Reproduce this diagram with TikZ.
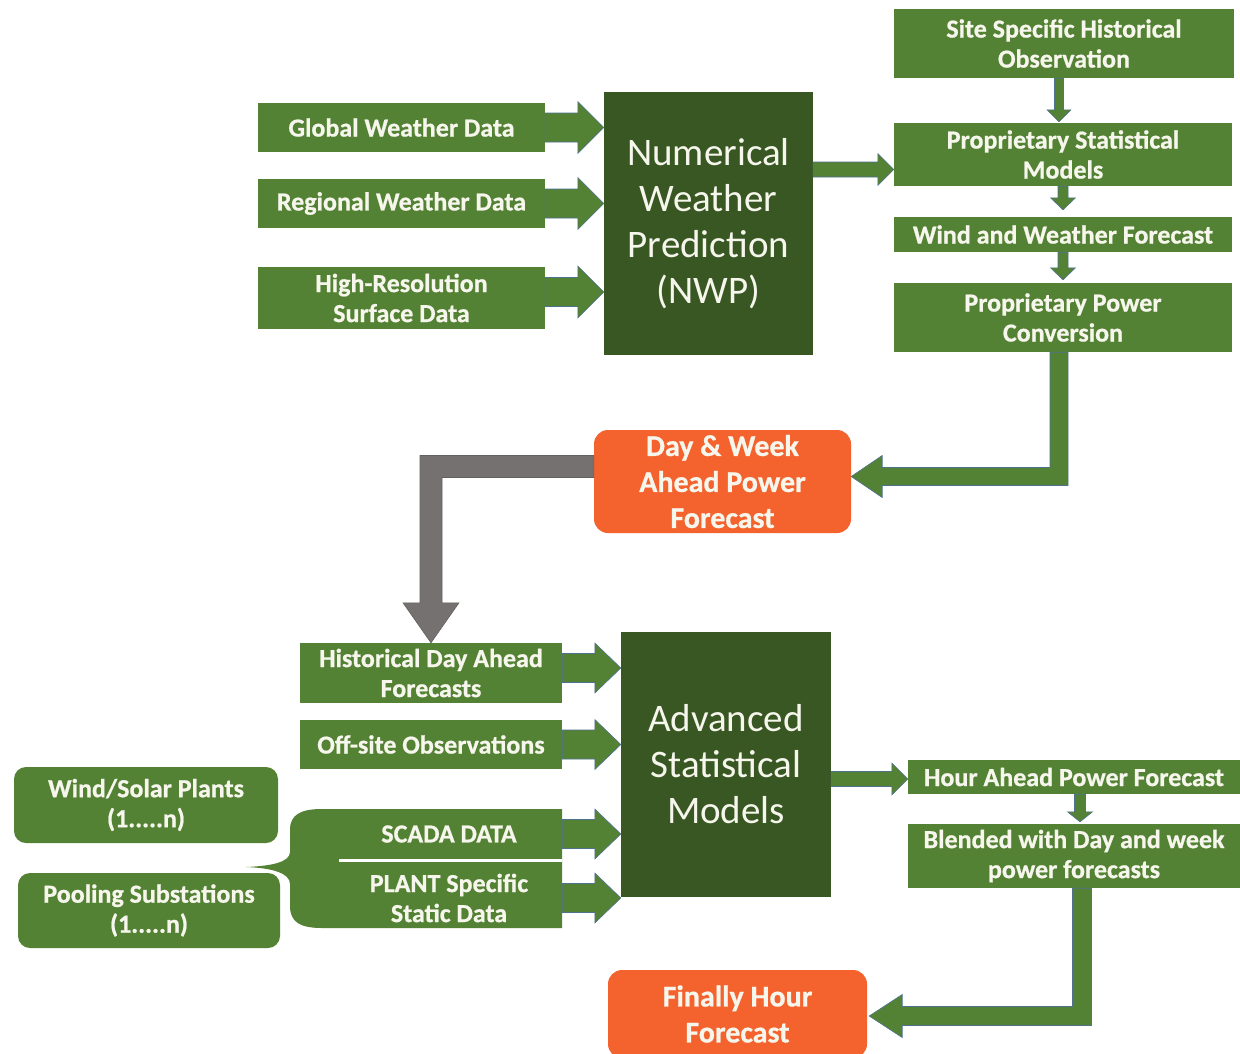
\documentclass[tikz,border=0pt]{standalone}
\usepackage{fontspec}
\setmainfont{Carlito}[BoldFeatures={FakeBold=0.8}]
\usetikzlibrary{calc}
\definecolor{mgreen}{HTML}{548235}
\definecolor{dgreen}{HTML}{385723}
\definecolor{orng}{HTML}{F4622E}
\definecolor{gry}{HTML}{767171}
\definecolor{txt}{HTML}{F6F6EC}
\definecolor{aedge}{HTML}{4E7290}
% right block arrow: style, start, tip, half shaft, half head, head length
\newcommand\RArr[6]{\draw[#1] let \p1=#2, \p2=#3 in (\x1,\y2+#4) -- (\x2-#6,\y2+#4) -- (\x2-#6,\y2+#5) -- (\x2,\y2) -- (\x2-#6,\y2-#5) -- (\x2-#6,\y2-#4) -- (\x1,\y2-#4) -- cycle;}
% down block arrow
\newcommand\DArr[6]{\draw[#1] let \p1=#2, \p2=#3 in (\x2-#4,\y1) -- (\x2-#4,\y2+#6) -- (\x2-#5,\y2+#6) -- (\x2,\y2) -- (\x2+#5,\y2+#6) -- (\x2+#4,\y2+#6) -- (\x2+#4,\y1) -- cycle;}
% down then left elbow
\newcommand\DLArr[6]{\draw[#1] let \p1=#2, \p2=#3 in (\x1-#4,\y1) -- (\x1-#4,\y2+#4) -- (\x2+#6,\y2+#4) -- (\x2+#6,\y2+#5) -- (\x2,\y2) -- (\x2+#6,\y2-#5) -- (\x2+#6,\y2-#4) -- (\x1+#4,\y2-#4) -- (\x1+#4,\y1) -- cycle;}
% left then down elbow
\newcommand\LDArr[6]{\draw[#1] let \p1=#2, \p2=#3 in (\x1,\y1+#4) -- (\x2-#4,\y1+#4) -- (\x2-#4,\y2+#6) -- (\x2-#5,\y2+#6) -- (\x2,\y2) -- (\x2+#5,\y2+#6) -- (\x2+#4,\y2+#6) -- (\x2+#4,\y1-#4) -- (\x1,\y1-#4) -- cycle;}
\begin{document}
\begin{tikzpicture}[x=1pt,y=-1pt,
  gbox/.style={fill=mgreen, text=txt, align=center, inner sep=0pt,
    font=\fontsize{26}{30}\selectfont\bfseries},
  rbox/.style={gbox, rounded corners=12pt},
  obox/.style={fill=orng, text=txt, align=center, inner sep=0pt, rounded corners=14pt,
    font=\fontsize{30}{36}\selectfont\bfseries},
  bigbox/.style={fill=dgreen, text=txt, align=center, inner sep=0pt,
    font=\fontsize{39}{46}\selectfont},
  tbox/.style={text=txt, align=center, inner sep=0pt,
    font=\fontsize{26}{30}\selectfont\bfseries},
  barrow/.style={fill=mgreen, draw=aedge, line width=0.6pt},
  garrow/.style={fill=gry, draw=gry!85!black, line width=0.6pt}]
\fill[white] (0,0) rectangle (1240,1053);
\useasboundingbox (0,0) rectangle (1240,1053);
\clip (0,0) rectangle (1240,1053);

% top left inputs
\node[gbox, minimum width=287pt, minimum height=49pt] (gwd) at (401.5,127.5) {Global Weather Data};
\node[gbox, minimum width=287pt, minimum height=49pt] (rwd) at (401.5,203.5) {Regional Weather Data};
\node[gbox, minimum width=287pt, minimum height=62pt] (hrs) at (401.5,298) {High-Resolution\\Surface Data};
\node[bigbox, minimum width=209pt, minimum height=263pt] (nwp) at (708.5,223.5) {Numerical\\Weather\\Prediction\\(NWP)};

% right column
\node[gbox, minimum width=340pt, minimum height=69pt] (site) at (1064,43.5) {Site Specific Historical\\Observation};
\node[gbox, minimum width=338pt, minimum height=63pt] (psm) at (1063,154.5) {Proprietary Statistical\\Models};
\node[gbox, minimum width=338pt, minimum height=35pt] (wind) at (1063,234.5) {Wind and Weather Forecast};
\node[gbox, minimum width=338pt, minimum height=69pt] (power) at (1063,317.5) {Proprietary Power\\Conversion};

% day & week
\node[obox, minimum width=257pt, minimum height=103pt] (dw) at (722.5,481.5) {Day \& Week\\Ahead Power\\Forecast};

% bottom section
\node[gbox, minimum width=262pt, minimum height=60pt] (hist) at (431,673) {Historical Day Ahead\\Forecasts};
\node[gbox, minimum width=262pt, minimum height=49pt] (off) at (431,744.5) {Off-site Observations};
\node[bigbox, minimum width=210pt, minimum height=265pt] (asm) at (726,764.5) {Advanced\\Statistical\\Models};
\node[rbox, minimum width=264pt, minimum height=76pt] (wsp) at (146,805) {Wind/Solar Plants\\(1.....n)};
\node[rbox, minimum width=262pt, minimum height=75pt] (pool) at (149,910.5) {Pooling Substations\\(1.....n)};

% brace shaped data box
\fill[mgreen] (562,809) -- (322,809) .. controls (300,809) and (290,815) .. (290,830)
  -- (290,852) .. controls (290,862) and (272,866) .. (246,867)
  .. controls (272,868) and (290,873) .. (290,884)
  -- (290,906) .. controls (290,922) and (300,928) .. (322,928) -- (562,928) -- cycle;
\node[tbox, minimum width=226pt] (scada) at (449,834) {SCADA DATA};
\node[tbox, minimum width=226pt] (plant) at (449,898) {PLANT Specific\\Static Data};
\draw[white, line width=3pt] (339,860) -- (562,860);

\node[gbox, minimum width=332pt, minimum height=34pt] (hour) at (1074,777) {Hour Ahead Power Forecast};
\node[gbox, minimum width=332pt, minimum height=64pt] (blend) at (1074,856) {Blended with Day and week\\power forecasts};
\node[obox, minimum width=259pt, minimum height=88pt] (fin) at (737.5,1014) {Finally Hour\\Forecast};

% connectors: inputs to NWP
\coordinate (hrsA) at ($(hrs.east)+(0,-6)$);
\RArr{barrow}{(gwd.east)}{(nwp.west |- gwd.east)}{14.5pt}{26pt}{26pt}
\RArr{barrow}{(rwd.east)}{(nwp.west |- rwd.east)}{14.5pt}{26pt}{26pt}
\RArr{barrow}{(hrsA)}{(nwp.west |- hrsA)}{14.5pt}{26pt}{26pt}
% NWP to statistical models
\coordinate (psmA) at ($(psm.west)+(0,15)$);
\RArr{barrow}{(nwp.east |- psmA)}{(psmA)}{7.5pt}{16pt}{16pt}
% right column chain
\coordinate (siteB) at ($(site.south)+(-4,0)$);
\coordinate (psmT) at ($(psm.north)+(-4,-1)$);
\DArr{barrow}{(siteB)}{(psmT)}{4.5pt}{12pt}{12pt}
\coordinate (windT) at ($(wind.north)+(0,-7)$);
\DArr{barrow}{(psm.south)}{(windT)}{5pt}{12.5pt}{12pt}
\coordinate (powT) at ($(power.north)+(0,-3)$);
\DArr{barrow}{(wind.south)}{(powT)}{5pt}{12.5pt}{12pt}
% power conversion to day & week
\coordinate (powB) at ($(power.south)+(-4,0)$);
\coordinate (dwE) at ($(dw.east)+(0,-5)$);
\DLArr{barrow}{(powB)}{(dwE)}{9pt}{21pt}{31pt}
% day & week to historical
\coordinate (dwW) at ($(dw.west)+(0,-15)$);
\LDArr{garrow}{(dwW)}{(hist.north)}{11pt}{28pt}{40pt}
% inputs to advanced statistical models
\coordinate (histA) at ($(hist.east)+(0,-5)$);
\RArr{barrow}{(histA)}{(asm.west |- histA)}{14.5pt}{25pt}{26pt}
\RArr{barrow}{(off.east)}{(asm.west |- off.east)}{14.5pt}{25pt}{26pt}
\RArr{barrow}{(scada.east)}{(asm.west |- scada.east)}{14.5pt}{25pt}{26pt}
\RArr{barrow}{(plant.east)}{(asm.west |- plant.east)}{14.5pt}{25pt}{26pt}
% ASM to hour ahead
\coordinate (hourW) at ($(hour.west)+(0,2)$);
\RArr{barrow}{(asm.east |- hourW)}{(hourW)}{7.5pt}{16pt}{16pt}
\coordinate (hourB) at ($(hour.south)+(6,0)$);
\coordinate (blendT) at ($(blend.north)+(6,-2)$);
\DArr{barrow}{(hourB)}{(blendT)}{5.5pt}{12.5pt}{10pt}
% blended to final
\coordinate (blendB) at ($(blend.south)+(8,0)$);
\coordinate (finE) at ($(fin.east)+(2,2)$);
\DLArr{barrow}{(blendB)}{(finE)}{9.5pt}{21.5pt}{33pt}
\end{tikzpicture}
\end{document}
